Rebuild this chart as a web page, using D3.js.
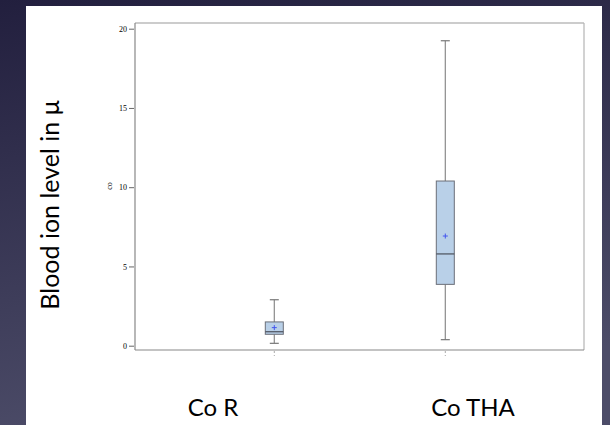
<!DOCTYPE html>
<html>
<head>
<meta charset="utf-8">
<script src="https://cdn.jsdelivr.net/npm/d3@7"></script>
<style>
  body { margin: 0; background: #2a2746; }
  svg { display: block; }
</style>
</head>
<body>
<div id="chart"></div>
<script>
// data
const groups = ["Co R", "Co THA"];
const whiskerLow = [0.15, 0.38];
const q1 = [0.72, 3.87];
const median = [0.88, 5.79];
const q3 = [1.5, 10.39];
const whiskerHigh = [2.9, 19.24];
const means = [1.14, 6.92];
const yTicks = [0, 5, 10, 15, 20];

const W = 610, H = 425;
const svg = d3.select("#chart").append("svg")
    .attr("width", W).attr("height", H);

// slide background
const defs = svg.append("defs");
const grad = defs.append("linearGradient").attr("id", "bg")
    .attr("x1", 0).attr("y1", 0).attr("x2", 0.25).attr("y2", 1);
grad.append("stop").attr("offset", "0%").attr("stop-color", "#221f3e");
grad.append("stop").attr("offset", "100%").attr("stop-color", "#4c4c68");
svg.append("rect").attr("width", W).attr("height", H).attr("fill", "url(#bg)");

// white picture area
svg.append("rect").attr("x", 26).attr("y", 6).attr("width", 576).attr("height", H - 6)
    .attr("fill", "#ffffff");

const frame = {left: 135, top: 23, right: 584, bottom: 350};

const y = d3.scaleLinear().domain([0, 20]).range([345.7, 28.7]);
const x = d3.scalePoint().domain(groups).range([274.3, 445.3]);
const xLabel = d3.scalePoint().domain(groups).range([213, 473]);
const boxW = 18;

// y axis
const yAxis = svg.append("g")
    .attr("transform", `translate(${frame.left - 1},0)`)
    .call(d3.axisLeft(y).tickValues(yTicks).tickSize(5).tickPadding(2));
yAxis.select(".domain").remove();
yAxis.selectAll(".tick line").attr("stroke", "#666");
yAxis.selectAll(".tick text")
    .attr("font-family", "Liberation Serif, serif")
    .attr("font-size", 8)
    .attr("fill", "#000");

svg.append("text")
    .attr("transform", `translate(112,186) rotate(-90)`)
    .attr("text-anchor", "middle")
    .attr("font-family", "Liberation Serif, serif")
    .attr("font-size", 8)
    .attr("fill", "#000")
    .text("co");

// x ticks below the frame
svg.append("g").selectAll("line").data(groups).join("line")
    .attr("x1", d => x(d)).attr("x2", d => x(d))
    .attr("y1", frame.bottom + 1).attr("y2", frame.bottom + 6)
    .attr("stroke", "#aaa").attr("stroke-width", 1)
    .attr("stroke-dasharray", "2,2");

// frame
svg.append("line").attr("x1", frame.left).attr("x2", frame.right)
    .attr("y1", frame.top).attr("y2", frame.top).attr("stroke", "#9a9a9a").attr("stroke-width", 1.2);
svg.append("line").attr("x1", frame.right).attr("x2", frame.right)
    .attr("y1", frame.top).attr("y2", frame.bottom).attr("stroke", "#b4b4b4").attr("stroke-width", 1.2);
svg.append("line").attr("x1", frame.left).attr("x2", frame.left)
    .attr("y1", frame.top).attr("y2", frame.bottom).attr("stroke", "#888").attr("stroke-width", 1.2);
svg.append("line").attr("x1", frame.left).attr("x2", frame.right)
    .attr("y1", frame.bottom).attr("y2", frame.bottom).attr("stroke", "#888").attr("stroke-width", 1.2);

// boxes
const box = svg.append("g").selectAll("g").data(groups).join("g");

box.append("line")
    .attr("x1", d => x(d)).attr("x2", d => x(d))
    .attr("y1", (d, i) => y(whiskerHigh[i])).attr("y2", (d, i) => y(q3[i]))
    .attr("stroke", "#8a8a8a").attr("stroke-width", 1.2);
box.append("line")
    .attr("x1", d => x(d)).attr("x2", d => x(d))
    .attr("y1", (d, i) => y(q1[i])).attr("y2", (d, i) => y(whiskerLow[i]))
    .attr("stroke", "#8a8a8a").attr("stroke-width", 1.2);
// caps
box.append("line")
    .attr("x1", d => x(d) - 4.5).attr("x2", d => x(d) + 4.5)
    .attr("y1", (d, i) => y(whiskerHigh[i])).attr("y2", (d, i) => y(whiskerHigh[i]))
    .attr("stroke", "#777").attr("stroke-width", 1.2);
box.append("line")
    .attr("x1", d => x(d) - 4.5).attr("x2", d => x(d) + 4.5)
    .attr("y1", (d, i) => y(whiskerLow[i])).attr("y2", (d, i) => y(whiskerLow[i]))
    .attr("stroke", "#777").attr("stroke-width", 1.2);

box.append("rect")
    .attr("x", d => x(d) - boxW / 2).attr("width", boxW)
    .attr("y", (d, i) => y(q3[i]))
    .attr("height", (d, i) => y(q1[i]) - y(q3[i]))
    .attr("fill", "#b9d0e8").attr("stroke", "#6b6f78").attr("stroke-width", 1);

box.append("line")
    .attr("x1", d => x(d) - boxW / 2).attr("x2", d => x(d) + boxW / 2)
    .attr("y1", (d, i) => y(median[i])).attr("y2", (d, i) => y(median[i]))
    .attr("stroke", "#4a4f5a").attr("stroke-width", 1.2);

// mean marker
box.append("path")
    .attr("d", (d, i) => `M${x(d) - 2.5},${y(means[i])}h5M${x(d)},${y(means[i]) - 2.5}v5`)
    .attr("stroke", "#4455ee").attr("stroke-width", 1);

// slide text
svg.append("g").selectAll("text").data(groups).join("text")
    .attr("x", d => xLabel(d)).attr("y", 416)
    .attr("text-anchor", "middle")
    .attr("font-family", "Lato, 'Open Sans', sans-serif")
    .attr("font-size", 24)
    .attr("fill", "#000")
    .text(d => d);

svg.append("text")
    .attr("transform", "translate(59,205) rotate(-90)")
    .attr("text-anchor", "middle")
    .attr("font-family", "Lato, 'Open Sans', sans-serif")
    .attr("font-size", 25)
    .attr("fill", "#000")
    .text("Blood ion level in μ");
</script>
</body>
</html>
